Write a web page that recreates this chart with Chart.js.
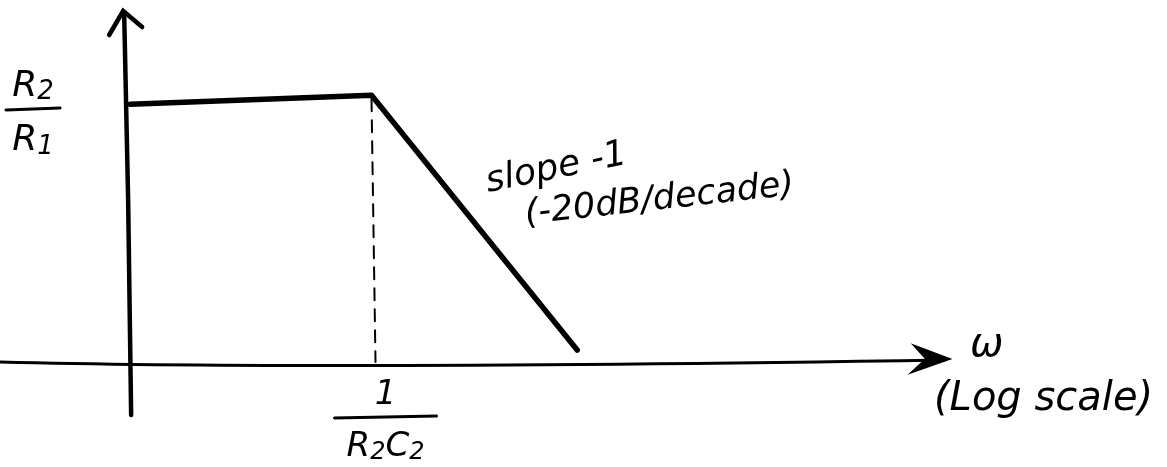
<!DOCTYPE html>
<html lang="en">
	<head>
		<meta charset="UTF-8" />
		<title>Bode magnitude sketch</title>
		<script src="https://cdn.jsdelivr.net/npm/chart.js"></script>
		<style>
			html, body {
				margin: 0;
				padding: 0;
				background: #fff;
			}
			#wrap {
				width: 1167px;
				height: 467px;
			}
		</style>
	</head>
	<body>
		<div id="wrap"><canvas id="bode"></canvas></div>

		<script>
			// x = log10(w * R2C2) in decades, y = gain in dB above the axis
			const logW = [-1.15, 0, 0.98];
			const gainDb = [20.3, 21, 0.94];
			const cornerX = 0;
			const xRange = [-1.77, 3.79];
			const yRange = [-8.27, 28.5];

			const ink = "#000";
			const face = "'DejaVu Sans', sans-serif";

			// text made of [string, isSubscript] parts, centred on cx
			function richText(ctx, parts, cx, base, size) {
				const sub = Math.round(size * 0.72);
				let w = 0;
				parts.forEach(([s, isSub]) => {
					ctx.font = "italic " + (isSub ? sub : size) + "px " + face;
					w += ctx.measureText(s).width;
				});
				let x = cx - w / 2;
				ctx.textAlign = "left";
				parts.forEach(([s, isSub]) => {
					ctx.font = "italic " + (isSub ? sub : size) + "px " + face;
					ctx.fillText(s, x, base + (isSub ? size * 0.1 : 0));
					x += ctx.measureText(s).width;
				});
			}

			function fraction(ctx, cx, top, num, den, barW, size) {
				ctx.textBaseline = "alphabetic";
				richText(ctx, num, cx, top + size * 0.82, size);
				ctx.lineWidth = 3;
				ctx.beginPath();
				ctx.moveTo(cx - barW / 2, top + size + 8);
				ctx.lineTo(cx + barW / 2, top + size + 6);
				ctx.stroke();
				richText(ctx, den, cx, top + size * 2 + 12, size);
			}

			const sketch = {
				id: "sketch",
				beforeDatasetsDraw(chart) {
					const { ctx, scales } = chart;
					const x0 = scales.x.getPixelForValue(logW[0]) - 3;
					const y0 = scales.y.getPixelForValue(0);
					const xc = scales.x.getPixelForValue(cornerX);
					const yc = scales.y.getPixelForValue(gainDb[1]);
					ctx.save();
					ctx.strokeStyle = ink;
					ctx.fillStyle = ink;
					ctx.lineCap = "round";

					// vertical axis with arrow
					ctx.lineWidth = 4.5;
					ctx.beginPath();
					ctx.moveTo(x0 + 4, 415);
					ctx.lineTo(x0 + 1, 200);
					ctx.lineTo(x0 - 3, 12);
					ctx.stroke();
					ctx.beginPath();
					ctx.moveTo(x0 - 18, 35);
					ctx.lineTo(x0 - 4, 11);
					ctx.lineTo(x0 + 15, 27);
					ctx.stroke();

					// horizontal axis with arrow
					ctx.lineWidth = 3;
					ctx.beginPath();
					ctx.moveTo(0, y0);
					ctx.quadraticCurveTo(xc - 60, y0 + 8, 945, y0 - 2);
					ctx.stroke();
					ctx.beginPath();
					ctx.moveTo(948, y0 - 3);
					ctx.lineTo(916, y0 - 15);
					ctx.lineTo(927, y0 - 3);
					ctx.lineTo(914, y0 + 9);
					ctx.closePath();
					ctx.fill();
					ctx.stroke();

					// dashed drop line at the corner frequency
					ctx.lineWidth = 2;
					ctx.setLineDash([12, 9]);
					ctx.beginPath();
					ctx.moveTo(xc, yc + 4);
					ctx.lineTo(xc + 4, y0);
					ctx.stroke();
					ctx.setLineDash([]);
					ctx.restore();
				},
				afterDatasetsDraw(chart) {
					const { ctx, scales } = chart;
					const xc = scales.x.getPixelForValue(cornerX);
					const y0 = scales.y.getPixelForValue(0);
					ctx.save();
					ctx.fillStyle = ink;
					ctx.strokeStyle = ink;
					ctx.lineCap = "round";

					// gain level and corner frequency labels
					fraction(ctx, 33, 66, [["R", false], ["2", true]], [["R", false], ["1", true]], 54, 36);
					fraction(ctx, xc + 14, y0 + 14, [["1", false]], [["R", false], ["2", true], ["C", false], ["2", true]], 102, 34);

					// slope note
					ctx.textAlign = "left";
					ctx.font = "italic 36px " + face;
					ctx.save();
					ctx.translate(488, 192);
					ctx.rotate(-0.2);
					ctx.fillText("slope -1", 0, 0);
					ctx.restore();
					ctx.font = "italic 35px " + face;
					ctx.save();
					ctx.translate(526, 224);
					ctx.rotate(-0.11);
					ctx.fillText("(-20dB/decade)", 0, 0);
					ctx.restore();

					// axis name
					ctx.font = "italic 40px " + face;
					ctx.fillText("ω", 970, 356);
					ctx.fillText("(Log scale)", 934, 410);
					ctx.restore();
				},
			};

			new Chart(document.getElementById("bode"), {
				type: "line",
				data: {
					datasets: [
						{
							data: logW.map((x, i) => ({ x: x, y: gainDb[i] })),
							borderColor: ink,
							borderWidth: 5.5,
							borderCapStyle: "round",
							borderJoinStyle: "round",
							pointRadius: 0,
							tension: 0,
						},
					],
				},
				options: {
					responsive: true,
					maintainAspectRatio: false,
					animation: false,
					layout: { padding: 0 },
					plugins: {
						legend: { display: false },
						tooltip: { enabled: false },
					},
					scales: {
						x: { type: "linear", min: xRange[0], max: xRange[1], display: false },
						y: { type: "linear", min: yRange[0], max: yRange[1], display: false },
					},
				},
				plugins: [sketch],
			});
		</script>
	</body>
</html>
